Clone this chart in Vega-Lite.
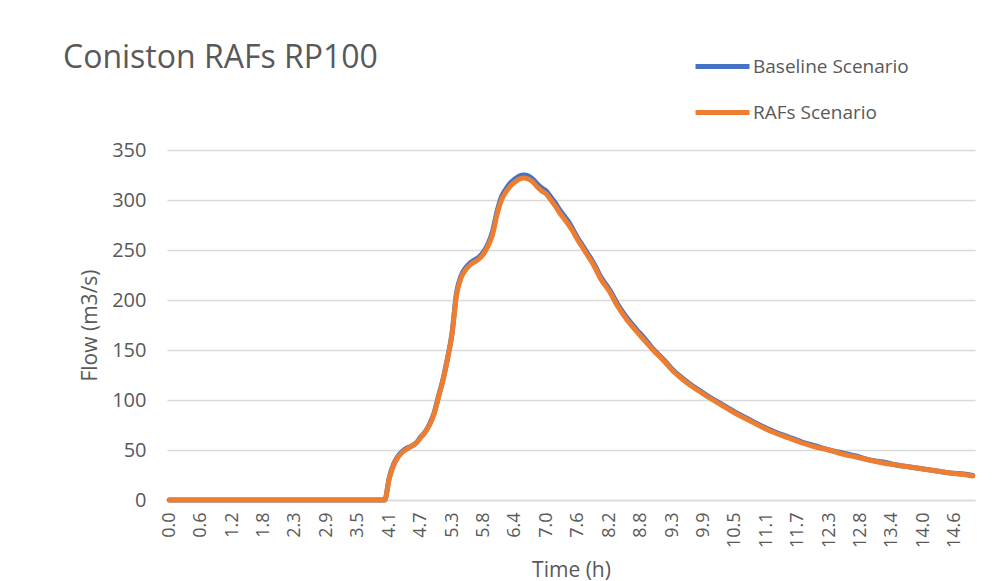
{
  "$schema": "https://vega.github.io/schema/vega-lite/v6.json",
  "autosize": "none",
  "width": 808,
  "height": 350,
  "padding": {"left": 167, "top": 150, "right": 31, "bottom": 81},
  "background": "white",
  "config": {"font": "Open Sans", "view": {"stroke": null}},
  "title": {"text": "Coniston RAFs RP100", "anchor": "start", "frame": "group", "dx": -104, "dy": 100, "fontSize": 32, "fontWeight": "normal", "color": "#595959", "offset": 62},
  "data": {"values": [
    {"t": 0, "b": 0, "r": 0},
    {"t": 1, "b": 0, "r": 0},
    {"t": 2, "b": 0, "r": 0},
    {"t": 3, "b": 0, "r": 0},
    {"t": 4.0, "b": 0, "r": 0},
    {"t": 4.0833, "b": 22, "r": 21},
    {"t": 4.1667, "b": 36, "r": 35},
    {"t": 4.25, "b": 44, "r": 43},
    {"t": 4.3333, "b": 49, "r": 48},
    {"t": 4.4167, "b": 52, "r": 51},
    {"t": 4.5, "b": 54, "r": 54},
    {"t": 4.5833, "b": 57, "r": 57},
    {"t": 4.6667, "b": 63, "r": 62},
    {"t": 4.75, "b": 68, "r": 68},
    {"t": 4.8333, "b": 76, "r": 75},
    {"t": 4.9167, "b": 87, "r": 86},
    {"t": 5.0, "b": 104, "r": 103},
    {"t": 5.0833, "b": 121, "r": 120},
    {"t": 5.1667, "b": 142, "r": 141},
    {"t": 5.25, "b": 167, "r": 166},
    {"t": 5.3333, "b": 207, "r": 205},
    {"t": 5.4167, "b": 224, "r": 222},
    {"t": 5.5, "b": 232, "r": 230},
    {"t": 5.5833, "b": 237, "r": 235},
    {"t": 5.6667, "b": 240, "r": 238},
    {"t": 5.75, "b": 243, "r": 241},
    {"t": 5.8333, "b": 248, "r": 246},
    {"t": 5.9167, "b": 256, "r": 254},
    {"t": 6.0, "b": 268, "r": 265},
    {"t": 6.0833, "b": 288, "r": 285},
    {"t": 6.1667, "b": 303, "r": 300},
    {"t": 6.25, "b": 311, "r": 308},
    {"t": 6.3333, "b": 317, "r": 314},
    {"t": 6.4167, "b": 321, "r": 318},
    {"t": 6.5, "b": 324, "r": 321},
    {"t": 6.5833, "b": 325, "r": 322},
    {"t": 6.6667, "b": 324, "r": 321},
    {"t": 6.75, "b": 321, "r": 318},
    {"t": 6.8333, "b": 316, "r": 313},
    {"t": 6.9167, "b": 312, "r": 309},
    {"t": 7.0, "b": 309, "r": 306},
    {"t": 7.0833, "b": 303, "r": 300},
    {"t": 7.1667, "b": 297, "r": 294},
    {"t": 7.25, "b": 290, "r": 287},
    {"t": 7.3333, "b": 284, "r": 281},
    {"t": 7.4167, "b": 278, "r": 275},
    {"t": 7.5, "b": 270, "r": 268},
    {"t": 7.5833, "b": 262, "r": 260},
    {"t": 7.6667, "b": 255, "r": 253},
    {"t": 7.75, "b": 248, "r": 246},
    {"t": 7.8333, "b": 241, "r": 239},
    {"t": 7.9167, "b": 233, "r": 231},
    {"t": 8.0, "b": 224, "r": 222},
    {"t": 8.1667, "b": 211, "r": 209},
    {"t": 8.3333, "b": 195, "r": 193},
    {"t": 8.5, "b": 182, "r": 180},
    {"t": 8.6667, "b": 171, "r": 169},
    {"t": 8.8333, "b": 161, "r": 159},
    {"t": 9.0, "b": 150, "r": 149},
    {"t": 9.1667, "b": 141, "r": 140},
    {"t": 9.3333, "b": 131, "r": 130},
    {"t": 9.5, "b": 123, "r": 122},
    {"t": 9.6667, "b": 116, "r": 115},
    {"t": 9.8333, "b": 110, "r": 109},
    {"t": 10.0, "b": 104, "r": 103},
    {"t": 10.25, "b": 96, "r": 95},
    {"t": 10.5, "b": 88, "r": 87},
    {"t": 10.75, "b": 81, "r": 80},
    {"t": 11.0, "b": 74, "r": 73},
    {"t": 11.25, "b": 68, "r": 67},
    {"t": 11.5, "b": 63, "r": 62},
    {"t": 11.75, "b": 58, "r": 57},
    {"t": 12.0, "b": 54, "r": 53},
    {"t": 12.25, "b": 50, "r": 50},
    {"t": 12.5, "b": 47, "r": 46},
    {"t": 12.75, "b": 44, "r": 43},
    {"t": 13.0, "b": 40, "r": 40},
    {"t": 13.25, "b": 38, "r": 37},
    {"t": 13.5, "b": 35, "r": 35},
    {"t": 13.75, "b": 33, "r": 33},
    {"t": 14.0, "b": 31, "r": 31},
    {"t": 14.25, "b": 29, "r": 29},
    {"t": 14.5, "b": 27, "r": 27},
    {"t": 14.75, "b": 26, "r": 25.5},
    {"t": 14.9167, "b": 24.5, "r": 24}
  ]},
  "encoding": {
    "x": {
      "field": "t",
      "type": "quantitative",
      "scale": {"domain": [-0.0416667, 14.9583333], "nice": false, "zero": false},
      "axis": {
        "values": [0, 0.583333, 1.166667, 1.75, 2.333333, 2.916667, 3.5, 4.083333, 4.666667, 5.25, 5.833333, 6.416667, 7.0, 7.583333, 8.166667, 8.75, 9.333333, 9.916667, 10.5, 11.083333, 11.666667, 12.25, 12.833333, 13.416667, 14.0, 14.583333],
        "format": ".1f",
        "labelAngle": 270,
        "labelFlush": false,
        "labelOverlap": false,
        "labelFontSize": 18,
        "labelColor": "#595959",
        "labelPadding": 12,
        "ticks": false,
        "tickSize": 0,
        "grid": false,
        "domainColor": "#d9d9d9",
        "domainWidth": 1.5,
        "title": "Time (h)",
        "titleFontSize": 21,
        "titleFontWeight": "normal",
        "titleColor": "#595959",
        "titleX": 404,
        "titleY": 76,
        "titleBaseline": "alphabetic",
        "titleAlign": "center"
      }
    },
    "y": {
      "type": "quantitative",
      "scale": {"domain": [0, 350], "nice": false},
      "axis": {
        "values": [0, 50, 100, 150, 200, 250, 300, 350],
        "labelFontSize": 20,
        "labelColor": "#595959",
        "labelPadding": 21,
        "ticks": false,
        "tickSize": 0,
        "domain": false,
        "grid": true,
        "gridColor": "#d9d9d9",
        "gridWidth": 1.5,
        "title": "Flow (m3/s)",
        "titleFontSize": 21,
        "titleFontWeight": "normal",
        "titleColor": "#595959",
        "titleX": -77,
        "titleY": 175,
        "titleAngle": 270,
        "titleAlign": "center",
        "titleBaseline": "middle"
      }
    }
  },
  "layer": [
    {
      "mark": {"type": "line", "strokeWidth": 5, "interpolate": "monotone", "strokeCap": "round"},
      "encoding": {
        "y": {"field": "b"},
        "color": {
          "datum": "Baseline Scenario",
          "type": "nominal",
          "scale": {"domain": ["Baseline Scenario", "RAFs Scenario"], "range": ["#4472C4", "#ED7D31"]},
          "legend": {
            "orient": "none",
            "legendX": 526,
            "legendY": -113,
            "title": null,
            "padding": 0,
            "symbolType": "stroke",
            "symbolSize": 2916,
            "symbolStrokeWidth": 5,
            "labelFontSize": 19,
            "labelColor": "#595959",
            "labelOffset": 1,
            "rowPadding": 6
          }
        }
      }
    },
    {
      "mark": {"type": "line", "strokeWidth": 5, "interpolate": "monotone", "strokeCap": "round"},
      "encoding": {
        "y": {"field": "r"},
        "color": {"datum": "RAFs Scenario", "type": "nominal"}
      }
    }
  ]
}
